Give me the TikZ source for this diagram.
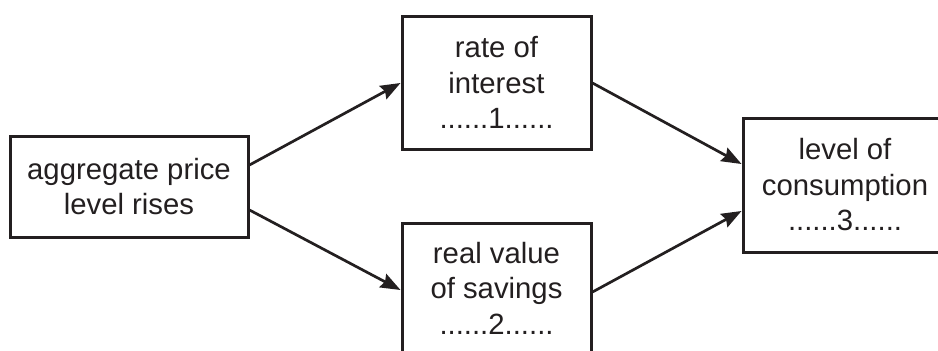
\documentclass[tikz,border=0pt]{standalone}
\usepackage{fontspec}
\setmainfont{Liberation Sans}
\usetikzlibrary{arrows.meta,calc}
\definecolor{ink}{HTML}{231F20}
\begin{document}
\begin{tikzpicture}[x=1pt,y=-1pt,
  boxnode/.style={draw=ink,line width=3pt,align=center,inner sep=0pt,
    text=ink,font=\fontsize{29.3}{35.5}\selectfont},
  arr/.style={draw=ink,line width=2.7pt,-{Stealth[length=20pt,width=15pt,inset=2.5pt]}}]
\useasboundingbox (0,0) rectangle (938,351);
\fill[white] (0,0) rectangle (938,351);
\node[boxnode,minimum width=238pt,minimum height=101pt] (L) at (129,186.5) {aggregate price\\level rises};
\node[boxnode,minimum width=189pt,minimum height=133pt] (T) at (496.5,82.5) {rate of\\interest\\......1......};
\node[boxnode,minimum width=189pt,minimum height=130pt] (B) at (496.5,288) {real value\\of savings\\......2......};
\node[boxnode,minimum width=204pt,minimum height=134pt] (R) at (845,185) {level of\\consumption\\......3......};
\draw[arr] ([yshift=21.5pt]L.east) -- ([yshift=-0.5pt]T.west);
\draw[arr] ([yshift=-23.5pt]L.east) -- ([yshift=-2pt]B.west);
\draw[arr] ([yshift=-0.5pt]T.east) -- ([yshift=21pt]R.west);
\draw[arr] ([yshift=-4pt]B.east) -- ([yshift=-26pt]R.west);
\end{tikzpicture}
\end{document}
